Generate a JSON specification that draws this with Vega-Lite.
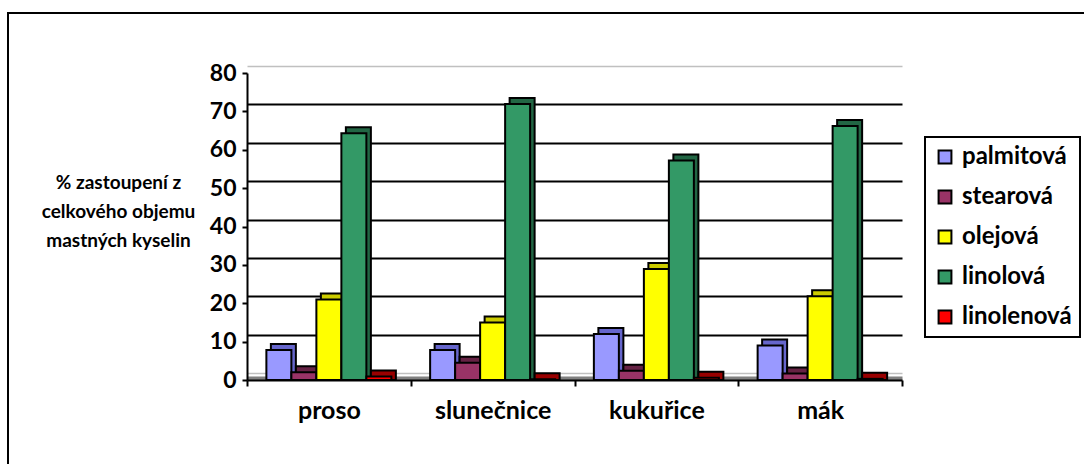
{
  "$schema": "https://vega.github.io/schema/vega-lite/v6.json",
  "width": 1078,
  "height": 453,
  "autosize": {"type": "none"},
  "padding": {"left": 8, "top": 13, "right": 0, "bottom": 0},
  "background": "white",
  "config": {
    "view": {"stroke": "black", "strokeWidth": 2, "fill": "white"},
    "font": "Lato",
    "legend": {"strokeWidth": 2}
  },
  "data": {
    "values": [
      {"plodina": "proso", "kyselina": "palmitová", "hodnota": 7.8},
      {"plodina": "proso", "kyselina": "stearová", "hodnota": 2.0},
      {"plodina": "proso", "kyselina": "olejová", "hodnota": 21.0},
      {"plodina": "proso", "kyselina": "linolová", "hodnota": 64.3},
      {"plodina": "proso", "kyselina": "linolenová", "hodnota": 0.9},
      {"plodina": "slunečnice", "kyselina": "palmitová", "hodnota": 7.8},
      {"plodina": "slunečnice", "kyselina": "stearová", "hodnota": 4.5},
      {"plodina": "slunečnice", "kyselina": "olejová", "hodnota": 15.0},
      {"plodina": "slunečnice", "kyselina": "linolová", "hodnota": 71.9},
      {"plodina": "slunečnice", "kyselina": "linolenová", "hodnota": 0.2},
      {"plodina": "kukuřice", "kyselina": "palmitová", "hodnota": 12.0},
      {"plodina": "kukuřice", "kyselina": "stearová", "hodnota": 2.4},
      {"plodina": "kukuřice", "kyselina": "olejová", "hodnota": 28.9},
      {"plodina": "kukuřice", "kyselina": "linolová", "hodnota": 57.2},
      {"plodina": "kukuřice", "kyselina": "linolenová", "hodnota": 0.6},
      {"plodina": "mák", "kyselina": "palmitová", "hodnota": 9.0},
      {"plodina": "mák", "kyselina": "stearová", "hodnota": 1.7},
      {"plodina": "mák", "kyselina": "olejová", "hodnota": 21.8},
      {"plodina": "mák", "kyselina": "linolová", "hodnota": 66.2},
      {"plodina": "mák", "kyselina": "linolenová", "hodnota": 0.3}
    ]
  },
  "encoding": {
    "x": {
      "field": "plodina",
      "type": "nominal",
      "sort": ["proso", "slunečnice", "kukuřice", "mák"],
      "scale": {"range": [239, 894], "paddingInner": 0, "paddingOuter": 0},
      "axis": {
        "title": null,
        "offset": -86,
        "labelFont": "Lato",
        "labelFontSize": 25,
        "labelFontWeight": "bold",
        "labelColor": "black",
        "labelAngle": 0,
        "labelPadding": 12,
        "tickSize": 6,
        "tickWidth": 2,
        "tickColor": "black",
        "tickBand": "extent",
        "domainColor": "black",
        "domainWidth": 2,
        "grid": false
      }
    }
  },
  "layer": [
    {
      "mark": {"type": "bar", "yOffset": -6, "y2Offset": -6, "stroke": "black", "strokeWidth": 2},
      "encoding": {
        "xOffset": {
          "field": "kyselina",
          "type": "nominal",
          "sort": ["palmitová", "stearová", "olejová", "linolová", "linolenová"],
          "scale": {"range": [4.5, 168.25], "paddingInner": 0, "paddingOuter": 0.775}
        },
        "y": {
          "field": "hodnota",
          "type": "quantitative",
          "stack": null,
          "scale": {"domain": [0, 80], "range": [367, 60], "nice": false},
          "axis": {
            "orient": "left",
            "offset": -239,
            "labels": false,
            "ticks": false,
            "domain": false,
            "title": null,
            "grid": true,
            "tickOffset": -7,
            "values": [0, 10, 20, 30, 40, 50, 60, 70, 80],
            "gridColor": {"condition": {"test": "datum.value === 0 || datum.value === 80", "value": "#c0c0c0"}, "value": "black"},
            "gridWidth": {"condition": {"test": "datum.value === 0 || datum.value === 80", "value": 1.5}, "value": 2}
          }
        },
        "color": {
          "field": "kyselina",
          "type": "nominal",
          "scale": {
            "domain": ["palmitová", "stearová", "olejová", "linolová", "linolenová"],
            "range": ["#6666CC", "#662244", "#CCCC00", "#226644", "#990000"]
          },
          "legend": null
        }
      }
    },
    {
      "mark": {"type": "bar", "stroke": "black", "strokeWidth": 2},
      "encoding": {
        "xOffset": {
          "field": "kyselina",
          "type": "nominal",
          "sort": ["palmitová", "stearová", "olejová", "linolová", "linolenová"],
          "scale": {"range": [0, 163.75], "paddingInner": 0, "paddingOuter": 0.775}
        },
        "y": {
          "field": "hodnota",
          "type": "quantitative",
          "stack": null,
          "axis": {
            "orient": "left",
            "offset": -239,
            "title": ["% zastoupení z", "celkového objemu", "mastných kyselin"],
            "titleAngle": 0,
            "titleAlign": "center",
            "titleBaseline": "middle",
            "titleX": -129,
            "titleY": 169,
            "titleFont": "Lato",
            "titleFontSize": 19,
            "titleFontWeight": "bold",
            "titleColor": "black",
            "titleLineHeight": 29,
            "values": [0, 0.65, 10, 20, 30, 40, 50, 60, 70, 80],
            "labelExpr": "datum.value === 0.65 ? '' : datum.label",
            "labelOverlap": false,
            "labelFont": "Lato",
            "labelFontSize": 23,
            "labelFontWeight": "bold",
            "labelColor": "black",
            "labelPadding": 6,
            "tickSize": 5,
            "tickWidth": 2,
            "tickColor": "black",
            "tickOpacity": {"condition": {"test": "datum.value === 0.65", "value": 0}, "value": 1},
            "domainColor": "black",
            "domainWidth": 2,
            "grid": true,
            "gridColor": "#808080",
            "gridWidth": 4,
            "gridOpacity": {"condition": {"test": "datum.value === 0.65", "value": 1}, "value": 0}
          }
        },
        "color": {
          "field": "kyselina",
          "type": "nominal",
          "scale": {
            "domain": ["palmitová", "stearová", "olejová", "linolová", "linolenová"],
            "range": ["#9999FF", "#993366", "#FFFF00", "#339966", "#FF0000"]
          },
          "legend": {
            "title": null,
            "orient": "none",
            "legendX": 917,
            "legendY": 124,
            "symbolType": "square",
            "symbolSize": 165,
            "symbolStrokeColor": "black",
            "symbolStrokeWidth": 2,
            "symbolOpacity": 1,
            "labelFont": "Lato",
            "labelFontSize": 24,
            "labelFontWeight": "bold",
            "labelColor": "black",
            "labelOffset": 5,
            "labelLimit": 200,
            "rowPadding": 16,
            "padding": 8,
            "strokeColor": "black"
          }
        }
      }
    }
  ],
  "resolve": {
    "scale": {"xOffset": "independent", "color": "independent"},
    "axis": {"y": "independent"},
    "legend": {"color": "independent"}
  }
}
